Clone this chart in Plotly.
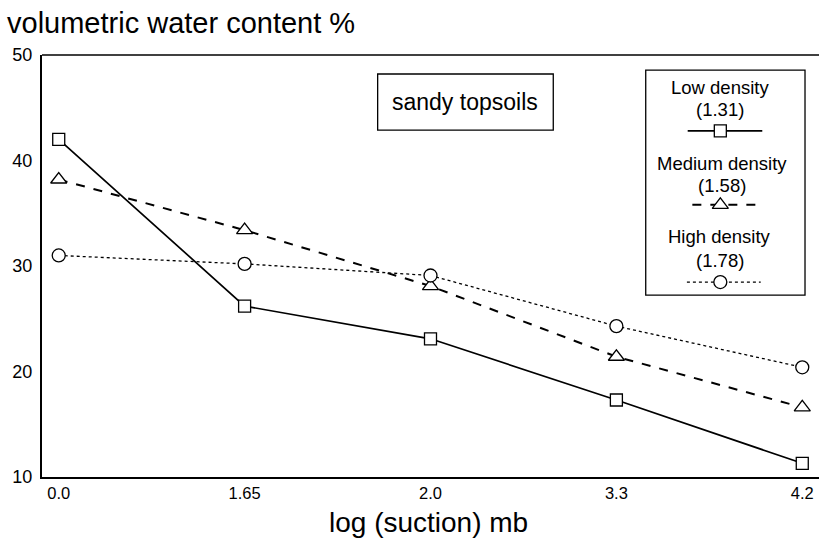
import plotly.graph_objects as go

suction_labels = ["0.0", "1.65", "2.0", "3.3", "4.2"]
low_density = [42.0, 26.2, 23.1, 17.3, 11.3]
medium_density = [38.2, 33.4, 28.1, 21.4, 16.6]
high_density = [31.0, 30.2, 29.1, 24.3, 20.4]

series_names = ["Low density", "Medium density", "High density"]
series_density = ["(1.31)", "(1.58)", "(1.78)"]
series_symbols = ["square", "triangle-up", "circle"]
series_sizes = [12, 14, 13]
series_dash = ["solid", "dash", "dot"]
series_width = [1.7, 2.0, 1.3]

FONT = "Liberation Sans, Arial, sans-serif"
xs = list(range(len(suction_labels)))

fig = go.Figure()
for vals, sym, sz, dash, w in zip([low_density, medium_density, high_density],
                                  series_symbols, series_sizes, series_dash, series_width):
    fig.add_trace(go.Scatter(
        x=xs, y=vals, mode="lines+markers",
        line=dict(color="black", dash=dash, width=w),
        marker=dict(symbol=sym, size=sz, color="white", line=dict(width=1.3, color="black")),
        showlegend=False, hoverinfo="skip", cliponaxis=False))

# legend samples on an auxiliary 0..1 axis covering the plot area
leg_y = [0.820, 0.645, 0.462]
leg_x0 = [0.831, 0.837, 0.830]
leg_x1 = [0.927, 0.927, 0.925]
leg_xm = 0.873
for yv, a, b, sym, sz, dash, w in zip(leg_y, leg_x0, leg_x1, series_symbols, series_sizes,
                                      series_dash, series_width):
    fig.add_trace(go.Scatter(
        x=[a, b], y=[yv, yv], mode="lines", xaxis="x2", yaxis="y2",
        line=dict(color="black", dash=dash, width=w), showlegend=False, hoverinfo="skip"))
    fig.add_trace(go.Scatter(
        x=[leg_xm], y=[yv], mode="markers", xaxis="x2", yaxis="y2",
        marker=dict(symbol=sym, size=sz, color="white", line=dict(width=1.3, color="black")),
        showlegend=False, hoverinfo="skip"))

annotations = []
leg_text_y = [0.922, 0.870, 0.744, 0.690, 0.569, 0.512]
leg_text_x = [0.872, 0.875, 0.872]
for i, (nm, dn) in enumerate(zip(series_names, series_density)):
    for j, t in enumerate([nm, dn]):
        annotations.append(dict(
            x=leg_text_x[i], y=leg_text_y[2 * i + j], xref="x2", yref="y2", text=t,
            showarrow=False, font=dict(family=FONT, size=18.5, color="black"),
            xanchor="center", yanchor="middle"))

annotations.append(dict(
    x=0.544, y=0.889, xref="x2", yref="y2", text="sandy topsoils", showarrow=False,
    font=dict(family=FONT, size=23, color="black"), xanchor="center", yanchor="middle"))
annotations.append(dict(
    x=-0.0476, y=1.076, xref="paper", yref="paper", text="volumetric water content %",
    showarrow=False, font=dict(family=FONT, size=29, color="black"),
    xanchor="left", yanchor="middle"))
annotations.append(dict(
    x=0.498, y=-0.107, xref="paper", yref="paper", text="log (suction) mb",
    showarrow=False, font=dict(family=FONT, size=28, color="black"),
    xanchor="center", yanchor="middle"))

shapes = [
    dict(type="rect", xref="x2", yref="y2", x0=0.432, x1=0.658, y0=0.822, y1=0.955,
         line=dict(color="black", width=1.3), fillcolor="rgba(0,0,0,0)"),
    dict(type="rect", xref="x2", yref="y2", x0=0.777, x1=0.982, y0=0.431, y1=0.964,
         line=dict(color="black", width=1.3), fillcolor="rgba(0,0,0,0)"),
    dict(type="line", xref="paper", yref="paper", x0=0, x1=1, y0=1, y1=1,
         line=dict(color="black", width=1.6)),
]

fig.update_layout(
    width=819, height=542,
    margin=dict(l=42, r=0, t=55, b=65, autoexpand=False),
    paper_bgcolor="white", plot_bgcolor="white",
    font=dict(family=FONT, color="black"),
    xaxis=dict(
        range=[-0.09, 4.09], tickmode="array", tickvals=xs, ticktext=suction_labels,
        showgrid=False, zeroline=False, showline=True, linecolor="black", linewidth=2,
        ticks="", automargin=False, tickfont=dict(family=FONT, size=16.5, color="black")),
    yaxis=dict(
        range=[10, 50], tickmode="array", tickvals=[10, 20, 30, 40, 50],
        showgrid=False, zeroline=False, showline=True, linecolor="black", linewidth=2,
        ticks="", automargin=False, ticklabelstandoff=4,
        tickfont=dict(family=FONT, size=18, color="black")),
    xaxis2=dict(overlaying="x", range=[0, 1], visible=False, domain=[0, 1]),
    yaxis2=dict(overlaying="y", range=[0, 1], visible=False),
    annotations=annotations,
    shapes=shapes,
)

fig.write_html(
    "out.html",
    config={"displayModeBar": False, "staticPlot": True},
    post_script="document.body.style.margin='0';document.body.style.overflow='hidden';",
)
